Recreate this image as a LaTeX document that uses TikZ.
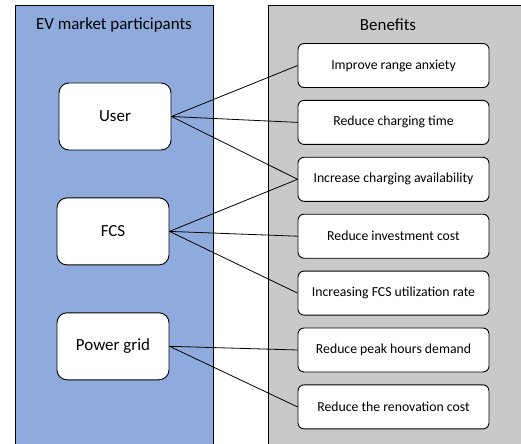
\documentclass[tikz,border=0pt]{standalone}
\usepackage{fontspec}
\setmainfont{Carlito}
\usetikzlibrary{positioning}
\definecolor{evblue}{RGB}{143,170,220}
\definecolor{evgray}{RGB}{201,201,201}

\begin{document}
\begin{tikzpicture}[x=1bp, y=-1bp, node distance=12bp,
  actor/.style={draw,rounded corners=10bp,fill=white,line width=0.9bp,
               minimum width=112bp,minimum height=67bp,
               font=\fontsize{17}{20}\selectfont},
  benefit/.style={draw,rounded corners=6bp,fill=white,line width=0.9bp,
               minimum width=191bp,minimum height=44bp,
               font=\fontsize{13.8}{16}\selectfont},
  link/.style={line width=0.8bp}]
  \useasboundingbox (0,0) rectangle (521,444);
  \clip (0,0) rectangle (521,444);
  % panels
  \fill[evblue] (15,5) rectangle (213,460);
  \draw[line width=0.8bp] (15,460) -- (15,5) -- (213,5) -- (213,460);
  \fill[evgray] (268,5) rectangle (540,460);
  \draw[line width=0.8bp] (268,460) -- (268,5) -- (540,5);
  \node[font=\fontsize{17}{20}\selectfont] (evtitle) at (114,25) {EV market participants};
  \node[font=\fontsize{17}{20}\selectfont] (bentitle) at (388,25) {Benefits};
  % participants
  \node[actor] (user) at (115,116.5) {User};
  \node[actor,below=47bp of user.south,anchor=north,xshift=-2bp] (fcs) {FCS};
  \node[actor,below=47bp of fcs.south,anchor=north] (grid) {Power grid};
  % benefits
  \node[benefit] (range) at (393.5,65.5) {Improve range anxiety};
  \node[benefit,below=of range] (time)  {Reduce charging time};
  \node[benefit,below=of time]  (avail) {Increase charging availability};
  \node[benefit,below=of avail] (invest) {Reduce investment cost};
  \node[benefit,below=of invest] (util) {Increasing FCS utilization rate};
  \node[benefit,below=of util]  (peak) {Reduce peak hours demand};
  \node[benefit,below=of peak]  (renov) {Reduce the renovation cost};
  \draw[link] (user.east) -- (range.west);
  \draw[link] (user.east) -- (time.west);
  \draw[link] (user.east) -- (avail.west);
  \draw[link] (fcs.east)  -- (avail.west);
  \draw[link] (fcs.east)  -- (invest.west);
  \draw[link] (fcs.east)  -- (util.west);
  \draw[link] (grid.east) -- (peak.west);
  \draw[link] (grid.east) -- (renov.west);
\end{tikzpicture}
\end{document}
